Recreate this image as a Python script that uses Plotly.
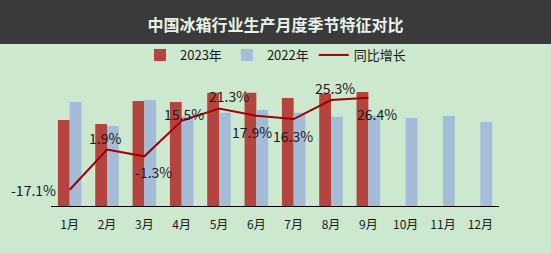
import plotly.graph_objects as go

months = ["1月", "2月", "3月", "4月", "5月", "6月", "7月", "8月", "9月", "10月", "11月", "12月"]
prod_2023 = [602, 574, 735, 728, 793, 793, 756, 786, 798]
prod_2022 = [728, 560, 742, 630, 653, 672, 653, 625, 631, 616, 630, 588]
yoy = [-17.1, 1.9, -1.3, 15.5, 21.3, 17.9, 16.3, 25.3, 26.4]
yoy_labels = [f"{v:.1f}%" for v in yoy]
# label offsets in pixels (x, y) relative to each line point
label_dx = [-36, -2, 9, 2, 10, -4, -1, 4, 9]
label_dy = [0, 12, -16, 7, 13, -16, -17, 12, -16]

FONT = "Noto Sans CJK SC"
BG = "#CCE8CF"

fig = go.Figure()
fig.add_trace(go.Bar(x=months[:len(prod_2023)], y=prod_2023, name="2023年",
                     marker=dict(color="#B5443F", line=dict(width=0))))
fig.add_trace(go.Bar(x=months, y=prod_2022, name="2022年",
                     marker=dict(color="#A3BDD9", line=dict(width=0))))
fig.add_trace(go.Scatter(x=months[:len(yoy)], y=yoy, name="同比增长", yaxis="y2",
                         mode="lines", line=dict(color="#A00000", width=2), cliponaxis=False))

annotations = []
for m, v, t, dx, dy in zip(months, yoy, yoy_labels, label_dx, label_dy):
    annotations.append(dict(x=m, y=v, xref="x", yref="y2", text=t, showarrow=False,
                            xshift=dx, yshift=dy, xanchor="center", yanchor="middle",
                            font=dict(family=FONT, size=14, color="#1a1a1a")))

fig.update_layout(
    width=551, height=253,
    margin=dict(l=51, r=52, t=62, b=47, autoexpand=False),
    paper_bgcolor=BG, plot_bgcolor=BG,
    barmode="group", bargap=0.37, bargroupgap=0,
    font=dict(family=FONT, size=12, color="#1a1a1a"),
    title=dict(text="<b>中国冰箱行业生产月度季节特征对比</b>", x=0.5, xanchor="center",
               xref="container", y=1 - 25/253, yanchor="middle", yref="container",
               font=dict(family=FONT, size=16, color="#E8F2E8")),
    showlegend=True,
    legend=dict(orientation="h", x=0.5, xanchor="center", xref="container",
                y=1 - 55/253, yanchor="middle", yref="container",
                bgcolor="rgba(0,0,0,0)", font=dict(family=FONT, size=13, color="#1a1a1a"),
                itemwidth=30, traceorder="normal"),
    xaxis=dict(range=[-0.5, len(months) - 0.5], autorange=False,
               showline=True, linecolor="#000000", linewidth=1, showgrid=False,
               ticks="", ticklabelstandoff=8, tickfont=dict(size=12), fixedrange=True),
    yaxis=dict(range=[0, 1008], autorange=False, visible=False, showgrid=False),
    yaxis2=dict(range=[-24.8, 43.3], autorange=False, overlaying="y", side="right",
                visible=False, showgrid=False),
    annotations=annotations,
    shapes=[dict(type="rect", xref="paper", yref="paper",
                 x0=-51/448, x1=500/448, y0=(206-44)/144, y1=206/144,
                 fillcolor="#3A3A3A", line=dict(width=0), layer="below")],
)

fig.write_html("out.html")
